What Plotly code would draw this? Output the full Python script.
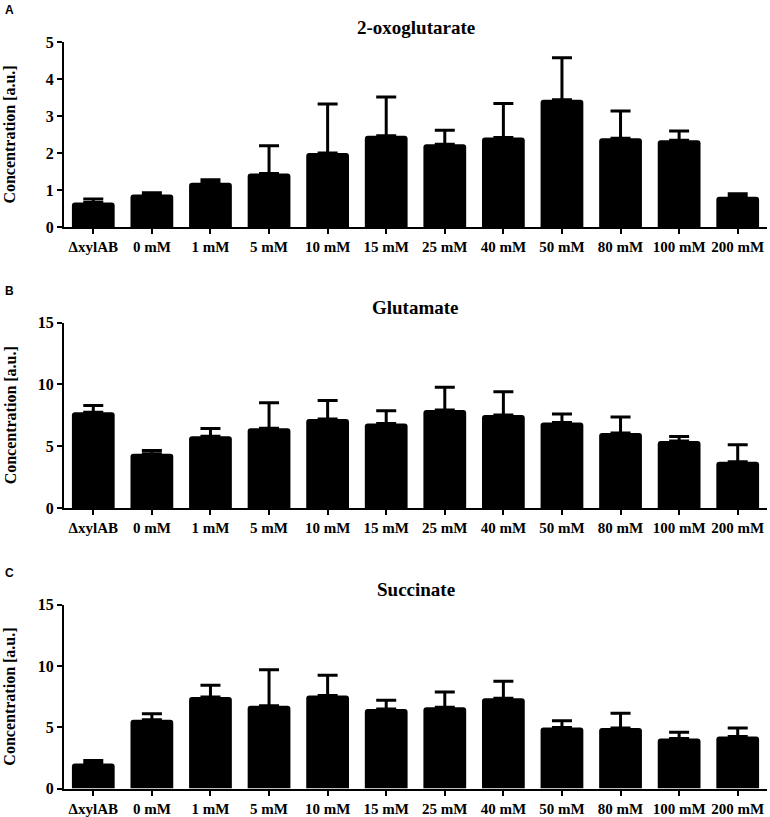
import plotly.graph_objects as go

categories = ["ΔxylAB", "0 mM", "1 mM", "5 mM", "10 mM", "15 mM", "25 mM",
              "40 mM", "50 mM", "80 mM", "100 mM", "200 mM"]

oxo_mean = [0.66, 0.88, 1.2, 1.45, 2.0, 2.47, 2.24, 2.42, 3.44, 2.4, 2.35, 0.82]
oxo_err = [0.1, 0.05, 0.08, 0.75, 1.33, 1.05, 0.38, 0.92, 1.14, 0.74, 0.25, 0.08]

glu_mean = [7.75, 4.4, 5.82, 6.45, 7.2, 6.85, 7.93, 7.52, 6.93, 6.08, 5.42, 3.75]
glu_err = [0.55, 0.25, 0.62, 2.08, 1.5, 1.03, 1.85, 1.88, 0.69, 1.28, 0.37, 1.37]

suc_mean = [2.04, 5.62, 7.47, 6.76, 7.6, 6.5, 6.64, 7.37, 4.98, 4.94, 4.08, 4.24]
suc_err = [0.24, 0.49, 0.95, 2.94, 1.64, 0.7, 1.24, 1.38, 0.56, 1.2, 0.51, 0.71]

titles = ["2-oxoglutarate", "Glutamate", "Succinate"]
panel_letters = ["A", "B", "C"]
y_ranges = [[0, 5], [0, 15], [0, 15]]
y_dticks = [1, 5, 5]

W, H = 770, 817
serif = "Liberation Serif"

def px_x(x):
    return min(1.0, max(0.0, x / W))

def px_y(y):
    # empirical correction of the page's vertical placement
    yy = (y - 7.8) / 0.98
    return min(1.0, max(0.0, 1 - yy / H))

# pixel geometry of each panel (top, bottom)
panels_px = [(42, 227), (322.7, 508.3), (605, 789)]
x_dom = [px_x(64), px_x(767)]
x_range = [-0.5, 11.5]

fig = go.Figure()
series = [(oxo_mean, oxo_err), (glu_mean, glu_err), (suc_mean, suc_err)]

for i, (m, e) in enumerate(series):
    ax = "" if i == 0 else str(i + 1)
    fig.add_trace(go.Bar(
        x=categories, y=m,
        xaxis="x" + ax, yaxis="y" + ax,
        width=0.73,
        marker=dict(color="black", line=dict(width=0), cornerradius=3),
        error_y=dict(type="data", array=e, arrayminus=[0] * len(e),
                     symmetric=False, color="black", thickness=3, width=10),
        showlegend=False,
    ))

layout = dict(
    width=W, height=H,
    margin=dict(l=0, r=0, t=0, b=0),
    paper_bgcolor="white", plot_bgcolor="white",
    font=dict(family=serif, color="black"),
)

annotations = []
for i in range(3):
    ax = "" if i == 0 else str(i + 1)
    top, bot = panels_px[i]
    layout["xaxis" + ax] = dict(
        domain=x_dom, anchor="y" + ax,
        range=x_range,
        showline=True, linewidth=2, linecolor="black",
        ticks="outside", ticklen=5, tickwidth=2, tickcolor="black",
        tickfont=dict(family=serif, size=15, color="black", weight="bold"),
        showgrid=False, zeroline=False,
    )
    layout["yaxis" + ax] = dict(
        domain=[px_y(bot), px_y(top)], anchor="x" + ax,
        range=y_ranges[i], dtick=y_dticks[i],
        showline=True, linewidth=2, linecolor="black",
        ticks="outside", ticklen=5, tickwidth=2, tickcolor="black",
        tickfont=dict(family=serif, size=16, color="black", weight="bold"),
        showgrid=False, zeroline=False,
    )
    annotations.append(dict(
        text="<b>" + titles[i] + "</b>", x=px_x(416), y=px_y(top - 15),
        xref="paper", yref="paper", showarrow=False,
        xanchor="center", yanchor="middle",
        font=dict(family=serif, size=19, color="black"),
    ))
    annotations.append(dict(
        text="<b>" + panel_letters[i] + "</b>", x=px_x(3), y=px_y(top - 32),
        xref="paper", yref="paper", showarrow=False,
        xanchor="left", yanchor="middle",
        font=dict(family="Liberation Sans", size=12, color="black"),
    ))
    annotations.append(dict(
        text="<b>Concentration [a.u.]</b>", x=px_x(10), y=px_y((top + bot) / 2),
        xref="paper", yref="paper", showarrow=False, textangle=-90,
        xanchor="center", yanchor="middle",
        font=dict(family=serif, size=16, color="black"),
    ))

layout["annotations"] = annotations
fig.update_layout(**layout)
fig.write_html(
    "out.html",
    config={"displayModeBar": False},
    post_script="document.body.style.margin='0';document.body.style.padding='0';",
)
